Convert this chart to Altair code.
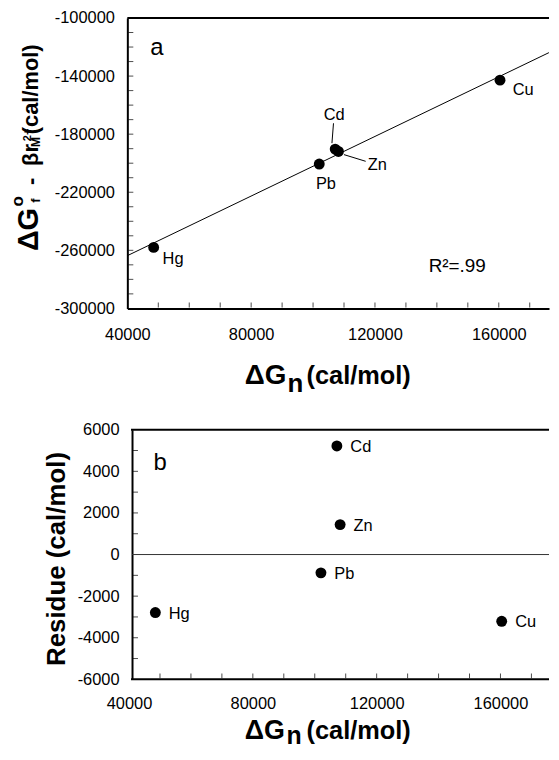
import altair as alt
import pandas as pd

FONT = "Liberation Sans"

# ---- data ----
ELEMENTS = ["Hg", "Pb", "Cd", "Zn", "Cu"]
DG_N = [48500, 102000, 107150, 108200, 160400]
DGF_MINUS_BETA_R = [-258000, -200600, -190300, -191900, -142800]
RESIDUE = [-2790, -880, 5220, 1440, -3210]

FIT_DGN = [40000, 176200]
FIT_DGF = [-263700, -123870]

X_LABELS = [40000, 80000, 120000, 160000]
X_MINOR_TOP = [50000, 60000, 70000, 80000, 90000, 100000, 110000, 120000,
               130000, 140000, 150000, 160000, 170000]
X_MINOR_BOT = [50000, 60000, 70000, 80000, 90000, 100000, 110000, 120000,
               130000, 140000, 150000, 160000, 170000]
Y_TOP_LABELS = [-300000, -260000, -220000, -180000, -140000, -100000]
Y_TOP_MINOR = [-290000, -280000, -270000, -260000, -250000, -240000, -230000,
               -220000, -210000, -200000, -190000, -180000, -170000, -160000,
               -150000, -140000, -130000, -120000, -110000]
Y_BOT_LABELS = [-6000, -4000, -2000, 0, 2000, 4000, 6000]
Y_BOT_MINOR = [-5000, -4000, -3000, -2000, -1000, 1000, 2000, 3000, 4000, 5000]

LEADERS = [
    {"x": 106100, "y": -186200, "x2": 106600, "y2": -172500},  # Cd
    {"x": 110000, "y": -194100, "x2": 117000, "y2": -198700},  # Zn
]

df = pd.DataFrame({"element": ELEMENTS, "dGn": DG_N,
                   "dGf": DGF_MINUS_BETA_R, "res": RESIDUE})

# ---- layout constants ----
W = 424
HT = 292
HB = 251
XT_DOM = [40000, 176230]
XB_DOM = [39454, 175684]
BOT_AXIS_SHIFT = 4.7

TOP_LABEL_OFFSETS = {"Hg": (19.5, 11.6), "Pb": (6.7, 19.8), "Cd": (-1, -34),
                     "Zn": (39, 13.3), "Cu": (23.3, 10)}

one = pd.DataFrame({"a": [0]})


def txt(s, x, y, size, bold=True, angle=0, align="left", baseline="alphabetic"):
    kw = dict(text=s, fontSize=size, font=FONT, color="black",
              align=align, baseline=baseline,
              fontWeight="bold" if bold else "normal")
    if angle:
        kw["angle"] = angle
    return alt.Chart(one).mark_text(**kw).encode(x=alt.value(x), y=alt.value(y))


def axis(values, pad, offset=None, domain=True):
    kw = dict(values=values, title=None, ticks=False, tickSize=0, grid=False,
              domain=domain, domainColor="black", domainWidth=2,
              labelPadding=pad, labelExpr="'' + datum.value",
              labelFontSize=16.5, labelFont=FONT, labelColor="black",
              labelOverlap=False, labelFlush=False)
    if offset is not None:
        kw["offset"] = offset
    return alt.Axis(**kw)


# ================= top panel =================
xs_t = alt.Scale(domain=XT_DOM, nice=False, zero=False)
ys_t = alt.Scale(domain=[-300000, -100000], nice=False, zero=False)

pts_t = alt.Chart(df).mark_circle(size=120, color="black", opacity=1).encode(
    x=alt.X("dGn:Q", scale=xs_t, axis=axis(X_LABELS, 18)),
    y=alt.Y("dGf:Q", scale=ys_t, axis=axis(Y_TOP_LABELS, 13)))

fit = alt.Chart(pd.DataFrame({"x": FIT_DGN, "y": FIT_DGF})).mark_line(
    color="black", strokeWidth=1).encode(x="x:Q", y="y:Q")

leaders = alt.Chart(pd.DataFrame(LEADERS)).mark_rule(color="black", strokeWidth=1).encode(
    x="x:Q", y="y:Q", x2="x2:Q", y2="y2:Q")

labels_t = []
for el in ELEMENTS:
    dx, dy = TOP_LABEL_OFFSETS[el]
    labels_t.append(
        alt.Chart(df).transform_filter(alt.datum.element == el).mark_text(
            dx=dx, dy=dy, align="center", baseline="middle", fontSize=16.5,
            font=FONT, color="black").encode(
            x="dGn:Q", y="dGf:Q", text="element:N"))

xt_ticks = alt.Chart(pd.DataFrame({"t": X_MINOR_TOP})).mark_tick(
    orient="vertical", size=5, thickness=1, color="black").encode(
    x="t:Q", y=alt.value(HT - 3.5))
yt_ticks = alt.Chart(pd.DataFrame({"t": Y_TOP_MINOR})).mark_tick(
    orient="horizontal", size=5, thickness=1, color="black").encode(
    y="t:Q", x=alt.value(3.5))

border_t = alt.Chart(one).mark_rule(color="black", strokeWidth=2).encode(
    x=alt.value(0), x2=alt.value(W), y=alt.value(0))

ann_t = [
    txt("a", 29.7, 37.6, 24, bold=False, align="center"),
    txt("R\u00b2=.99", 303, 255, 19, bold=False),
    # x title
    txt("\u0394G", 118, 368.3, 28),
    txt("n", 161, 376.3, 26),
    txt("(cal/mol)", 285, 368.3, 25.5, align="right"),
    # y title (rotated)
    txt("\u0394G", -90.3, 212.7, 29, angle=270, align="center"),
    txt("o", -105, 184.3, 17, angle=270, align="center"),
    txt("f", -88, 183.5, 13, angle=270, align="center"),
    txt("-", -90, 164.3, 22, angle=270, align="center"),
    txt("\u03b2r", -90, 137.8, 22, angle=270, align="center"),
    txt("M", -88, 124.6, 12, angle=270, align="center"),
    txt("2+", -97, 117.6, 11, angle=270, align="center"),
    txt("(cal/mol)", -90, 71.7, 22, angle=270, align="center"),
]

top = alt.layer(pts_t, fit, leaders, *labels_t, xt_ticks, yt_ticks, border_t,
                *ann_t).properties(width=W, height=HT)

# ================= bottom panel =================
xs_b = alt.Scale(domain=XB_DOM, nice=False, zero=False)
ys_b = alt.Scale(domain=[-6000, 6000], nice=False, zero=False)

pts_b = alt.Chart(df).mark_circle(size=120, color="black", opacity=1).encode(
    x=alt.X("dGn:Q", scale=xs_b, axis=axis(X_LABELS, 16, domain=False)),
    y=alt.Y("res:Q", scale=ys_b, axis=axis(Y_BOT_LABELS, 13, offset=-BOT_AXIS_SHIFT)))

zero_line = alt.Chart(one).mark_rule(color="#333333", strokeWidth=1).encode(
    y="z:Q", x=alt.value(BOT_AXIS_SHIFT), x2=alt.value(W)
).transform_calculate(z="0")

labels_b = alt.Chart(df).mark_text(
    dx=13.5, dy=1, align="left", baseline="middle", fontSize=16.5,
    font=FONT, color="black").encode(
    x="dGn:Q", y="res:Q", text="element:N")

xb_ticks = alt.Chart(pd.DataFrame({"t": X_MINOR_BOT})).mark_tick(
    orient="vertical", size=5, thickness=1, color="black").encode(
    x="t:Q", y=alt.value(HB - 3.5))
yb_ticks = alt.Chart(pd.DataFrame({"t": Y_BOT_MINOR})).mark_tick(
    orient="horizontal", size=5, thickness=1, color="black").encode(
    y="t:Q", x=alt.value(BOT_AXIS_SHIFT + 3.5))

border_bt = alt.Chart(one).mark_rule(color="black", strokeWidth=2).encode(
    x=alt.value(BOT_AXIS_SHIFT - 1), x2=alt.value(W), y=alt.value(0))
border_bb = alt.Chart(one).mark_rule(color="black", strokeWidth=2).encode(
    x=alt.value(BOT_AXIS_SHIFT - 1), x2=alt.value(W), y=alt.value(HB))

ann_b = [
    txt("b", 33, 40.2, 24, bold=False, align="center"),
    txt("\u0394G", 118, 310.5, 27),
    txt("n", 160, 316, 25),
    txt("(cal/mol)", 285, 310.5, 25.5, align="right"),
    txt("Residue (cal/mol)", -63, 130, 26, angle=270, align="center"),
]

bottom = alt.layer(pts_b, zero_line, labels_b, xb_ticks, yb_ticks, border_bt,
                   border_bb, *ann_b).properties(width=W, height=HB)

chart = alt.vconcat(top, bottom, spacing=24).properties(
    padding={"left": 1, "right": 0, "top": 0, "bottom": 0},
    background="white",
).configure_view(stroke=None).configure_axis(
    grid=False, ticks=False, labelFont=FONT, labelFontSize=16.5,
    labelColor="black", domainColor="black", title=None)

chart.save("out.html", embed_options={"renderer": "svg", "actions": False})
